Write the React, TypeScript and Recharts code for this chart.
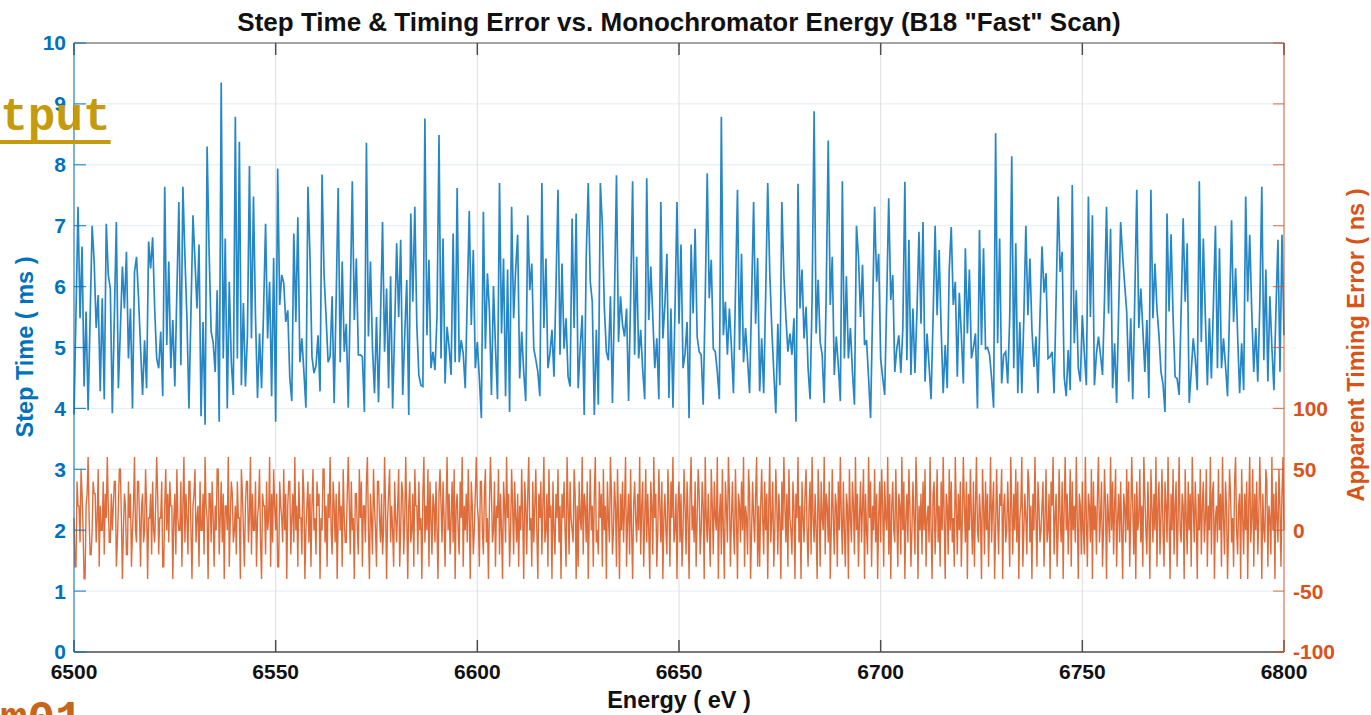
import { CartesianGrid, Line, LineChart, XAxis, YAxis } from 'recharts';

const BLUE = '#0072BD';
const ORANGE = '#D95319';
const FONT = '"Liberation Sans", Arial, Helvetica, sans-serif';

// scan grids: uniform energy steps
const ENERGY_START = 6500;
const STEP_TIME_STEP = 0.5;
const ERROR_STEP = 0.25;
const ENERGY_TICKS = [6500, 6550, 6600, 6650, 6700, 6750, 6800];
const STEP_TICKS = [0, 1, 2, 3, 4, 5, 6, 7, 8, 9, 10];
const ERROR_TICKS = [-100, -50, 0, 50, 100, 150, 200, 250, 300, 350, 400];
const ERROR_LABEL_MAX = 100;

// step time (ms)
const stepTime = [
  3.9, 5.6, 7.31, 5.48, 6.66, 4.36, 5.59, 3.97, 5.5, 7.0, 6.41, 5.32, 5.86, 4.28, 5.81, 4.15, 7.03, 6.19, 5.97, 3.92,
  5.5, 7.06, 4.33, 5.3, 6.33, 5.64, 6.57, 4.82, 5.64, 4.0, 6.24, 6.49, 5.81, 5.0, 4.22, 5.12, 4.33, 6.74, 6.3, 6.81,
  5.64, 4.82, 4.66, 5.26, 4.2, 7.64, 5.04, 6.41, 4.66, 5.45, 4.36, 5.9, 7.39, 4.71, 7.64, 6.5, 5.48, 4.0, 5.6, 7.17,
  6.41, 5.64, 6.69, 3.87, 5.42, 3.73, 8.3, 6.57, 5.26, 5.09, 4.6, 5.94, 3.78, 9.35, 4.82, 6.79, 4.0, 6.08, 4.76, 4.22,
  8.79, 4.82, 8.38, 4.38, 5.73, 4.36, 5.2, 7.98, 5.15, 7.48, 5.5, 4.17, 5.23, 4.33, 5.6, 7.03, 5.15, 6.08, 4.2, 6.47,
  3.78, 7.94, 5.7, 6.19, 6.06, 5.42, 5.61, 4.5, 4.12, 6.87, 5.42, 7.14, 4.76, 5.15, 4.6, 4.01, 7.64, 6.52, 4.85, 4.58,
  4.7, 5.2, 4.28, 7.84, 6.19, 5.5, 4.76, 4.85, 5.84, 4.09, 5.8, 7.62, 4.76, 6.41, 4.93, 5.39, 4.01, 5.8, 7.73, 5.45,
  6.46, 4.88, 4.88, 4.85, 3.94, 8.36, 5.18, 6.41, 5.0, 4.25, 5.5, 4.1, 5.5, 7.06, 4.93, 5.97, 4.33, 6.17, 4.0, 5.3,
  6.71, 5.5, 6.77, 4.22, 5.2, 6.11, 3.89, 7.2, 5.75, 7.31, 5.37, 4.55, 4.38, 4.36, 8.76, 5.2, 6.44, 4.66, 4.93, 4.63,
  5.5, 8.49, 4.82, 6.79, 4.41, 5.34, 5.0, 4.55, 6.87, 4.76, 7.62, 4.76, 5.12, 4.9, 4.33, 5.8, 7.24, 5.37, 6.6, 4.66,
  5.09, 4.5, 3.84, 7.23, 4.98, 6.22, 5.6, 4.22, 6.01, 5.0, 4.15, 7.7, 5.23, 6.46, 4.2, 6.28, 3.94, 7.31, 5.48, 6.28,
  6.85, 4.49, 5.26, 4.6, 4.12, 7.17, 5.94, 6.38, 4.98, 4.8, 4.6, 4.2, 7.7, 5.32, 6.46, 4.66, 4.9, 5.29, 4.52, 6.0,
  7.59, 4.88, 6.38, 4.98, 5.48, 4.52, 4.36, 7.12, 5.32, 7.2, 4.33, 5.0, 5.53, 3.89, 6.49, 7.7, 6.08, 5.75, 3.89, 5.29,
  4.06, 7.7, 7.0, 5.64, 4.93, 4.79, 5.84, 4.09, 5.8, 7.83, 5.09, 5.84, 5.37, 5.18, 5.64, 4.12, 5.8, 7.73, 4.88, 6.49,
  4.82, 5.29, 4.63, 4.15, 7.78, 5.45, 6.33, 5.5, 4.66, 5.15, 4.15, 7.39, 5.15, 5.7, 6.54, 4.17, 5.64, 4.01, 5.6, 7.39,
  5.39, 6.69, 4.66, 4.9, 5.42, 3.84, 6.69, 5.56, 6.95, 5.18, 4.93, 4.88, 4.06, 5.8, 7.86, 5.81, 6.44, 4.98, 4.93, 4.6,
  4.15, 8.79, 5.2, 5.75, 4.88, 5.64, 5.0, 4.25, 5.9, 7.59, 4.96, 6.54, 4.76, 5.32, 4.8, 4.25, 5.8, 7.39, 5.39, 6.47,
  4.28, 5.15, 4.25, 5.9, 7.7, 6.24, 5.32, 4.6, 3.92, 5.39, 4.38, 7.39, 6.19, 5.5, 4.93, 5.23, 4.88, 5.48, 3.78, 7.69,
  5.64, 6.28, 5.15, 5.67, 4.66, 4.15, 5.8, 8.88, 5.23, 6.11, 5.09, 4.88, 4.09, 5.9, 8.4, 5.7, 6.49, 4.55, 5.18, 4.7,
  4.12, 7.73, 4.82, 6.17, 4.82, 5.32, 4.6, 4.06, 7.0, 6.49, 5.5, 6.36, 5.04, 5.12, 4.5, 3.84, 5.6, 7.31, 6.08, 6.54,
  4.82, 4.5, 4.22, 5.8, 7.45, 5.78, 6.19, 4.6, 4.98, 5.2, 4.58, 5.32, 7.72, 4.79, 6.77, 4.55, 5.64, 4.58, 5.6, 6.9,
  5.39, 7.06, 4.44, 5.23, 4.7, 4.15, 5.5, 7.0, 5.53, 6.6, 5.3, 4.25, 5.04, 4.33, 6.28, 6.98, 5.7, 6.08, 4.52, 5.9,
  5.2, 4.41, 6.63, 5.23, 6.28, 4.82, 5.0, 5.23, 4.0, 6.93, 5.04, 6.63, 4.98, 5.0, 4.88, 4.5, 4.01, 8.52, 5.07, 6.79,
  4.41, 4.88, 4.93, 4.41, 5.5, 8.14, 4.66, 6.71, 4.25, 5.42, 4.25, 5.5, 7.0, 5.53, 6.46, 5.3, 4.68, 5.18, 4.25, 5.5,
  6.66, 5.9, 6.22, 4.82, 4.85, 4.93, 4.25, 5.8, 7.48, 6.24, 6.57, 4.52, 4.2, 4.96, 4.3, 7.67, 5.07, 5.94, 4.66, 4.44,
  5.53, 4.9, 4.38, 7.48, 5.5, 7.17, 4.38, 4.9, 5.18, 4.88, 4.55, 5.8, 7.31, 5.56, 6.95, 4.33, 5.07, 4.09, 5.6, 7.06,
  6.5, 6.03, 5.59, 4.44, 5.48, 4.15, 5.8, 7.59, 5.32, 5.97, 5.3, 4.6, 5.45, 4.17, 7.59, 5.48, 6.38, 5.64, 5.2, 4.6,
  4.4, 3.94, 7.2, 5.59, 6.86, 5.5, 4.52, 4.49, 4.22, 5.6, 7.12, 5.75, 6.71, 4.09, 4.6, 5.15, 4.82, 4.3, 7.73, 5.09,
  6.79, 5.5, 4.38, 5.48, 4.49, 5.7, 7.0, 4.66, 6.63, 4.66, 5.15, 4.7, 4.2, 5.6, 7.09, 5.42, 6.3, 5.2, 4.25, 5.07,
  4.3, 7.48, 5.75, 6.85, 5.6, 4.6, 5.32, 4.44, 5.7, 7.64, 4.79, 6.28, 4.44, 5.84, 5.0, 4.3, 5.6, 6.77, 4.6, 6.85,
  5.2,
];

// apparent timing error (ns), orange trace, quantised to 10 ns
const timingError = [
  10, -30, -30, 40, 20, 20, -10, 50, 30, 0, -40, -40, 20, 30, 60, 10, -20, -20, 0, 40, 30, 30, -10, 10, 50, -30, 20, 0, 0, 40, -20, 30, 10, 60, 20, -10, -10, 30, 0, 20,
  40, 40, -30, -10, 20, 50, 50, 10, -40, 0, 30, 20, -20, -20, 40, 10, 30, -30, 0, 20, 60, 0, -10, 40, 40, 10, -30, 20, 30, -10, 0, 50, 20, -40, 10, 10, 30, -20, 40, 0,
  -10, 20, 60, 30, -20, 10, 10, 40, -30, -30, 20, 50, 0, 30, -10, 40, 20, 20, -40, 10, 30, -20, 50, 10, 0, 0, 40, -30, 20, 60, -10, 30, 10, -20, 40, 40, 0, -40, 20, 30,
  50, -10, 10, 20, -30, 40, 0, 0, 30, -20, 60, 20, 10, -40, 30, 30, -10, 40, 10, -30, 20, 0, 50, 50, -20, 10, 40, -10, 30, -40, 20, 20, 0, 60, -30, 10, 40, 30, -10, 0,
  20, -20, 40, 10, 10, -40, 50, 30, 0, -30, 20, 40, 40, -10, 10, 60, -20, 30, 0, 0, 40, -30, 10, 20, 50, -10, -40, 30, 20, 20, -20, 40, 0, 10, 60, -30, 30, -10, 50, 20,
  0, 30, -30, -30, 40, 20, 10, -10, 50, 0, 30, -40, 20, 40, 40, -20, 10, 30, -10, 60, 0, 20, -30, 40, 10, 10, -20, 50, 30, -40, 0, 20, 40, -10, 30, -30, 20, 50, 0, 10,
  -20, 40, 20, 30, -40, 10, 0, 50, 50, -10, 20, -30, 30, 10, 60, 0, -20, 40, 20, -10, 30, -40, 10, 40, 0, 20, -30, 50, 10, -10, -10, 30, 60, 20, -20, 40, 0, 10, -40, 30,
  30, 0, -20, 50, 10, 40, -30, 20, 20, -10, 40, 60, 0, -40, 30, 10, -20, 50, 20, 0, -30, 40, 40, 10, -10, 30, -20, 0, 60, 20, -40, 10, 30, 50, -10, 20, 0, -30, 40, 10,
  -10, 20, 50, -30, 0, 40, 30, -20, 10, 60, 10, -40, 20, 40, -10, 0, 30, -30, 50, 20, 20, -20, 40, 0, 10, -40, 30, 60, -10, 20, 0, 50, -30, 40, 10, -20, 30, 20, -10, 40,
  0, -40, 30, 50, 20, -10, 40, 10, -30, 20, 60, 0, 30, -20, 10, 40, -10, 50, -40, 20, 30, 0, -20, 40, 10, 60, -30, 20, 0, 30, -10, 50, 10, -40, 40, 20, -20, 0, 30, 60,
  20, 10, -30, 40, 40, 0, -20, 30, 50, -10, 10, -40, 20, 60, 30, -10, 0, 40, -30, 20, 10, 50, -20, 30, 0, -40, 40, 20, -10, 60, 10, 30, -30, 0, 50, 20, -20, 40, 10, -10,
  30, -30, 20, 0, 50, 10, -40, 40, 20, -20, 30, 60, 0, 10, -30, 40, -10, 20, 50, 0, -40, 30, 10, 40, -20, 20, 60, -10, 0, 30, -30, 50, 10, 20, -40, 40, 0, -20, 30, 10,
  50, -10, 20, -40, 30, 10, 40, 0, -30, 60, 20, -20, 40, 10, 0, -10, 50, 30, -40, 20, -30, 40, 10, 0, 60, -20, 30, 20, -10, 40, -40, 10, 50, 0, 20, -30, 30, 60, -10, 0,
  -20, 40, 10, 30, -30, 50, 0, 20, -40, 40, 10, -10, 60, 30, -20, 0, 40, 20, -30, 50, 10, -40, 30, 0, 40, -10, 20, 60, -30, 10, 30, -20, 50, 0, -40, 20, 40, 10, -10, 30,
  0, 60, -20, 20, 40, -30, 10, 50, -10, 30, 0, -40, 40, 20, -20, 60, 10, 30, -30, 0, 50, 20, -10, 40, -40, 10, 30, 0, -20, 50, 20, -30, 40, 10, 60, -10, 0, 30, -40, 20,
  40, -10, 30, -30, 0, 50, 20, -20, 40, 10, -40, 30, 60, 0, 20, -10, 40, -30, 10, 50, 30, -20, 0, 40, 20, -40, 60, 10, -10, 30, 0, -30, 50, 20, -20, 40, 10, 0, 60, -40,
  10, 30, -20, 50, 0, -40, 40, 20, -10, 60, 30, -30, 10, 40, 0, -20, 50, 10, -40, 30, 20, -10, 40, 0, 60, -30, 20, 10, -20, 50, 30, -40, 0, 40, 10, -10, 30, 60, -30, 20,
  -30, 20, 50, 10, -20, 40, 0, 30, -40, 20, 60, -10, 10, 40, -30, 0, 50, 20, -20, 30, 10, -40, 40, 0, 60, 20, -10, 30, -30, 50, 10, 0, -20, 40, 20, -40, 30, 10, 60, -10,
  20, -40, 40, 10, -10, 30, 50, 0, -30, 20, 40, -20, 60, 10, -10, 30, 0, -40, 50, 20, -30, 40, 10, 0, 60, -20, 30, 20, -10, 40, -40, 0, 50, 10, -20, 30, 20, -30, 40, 0,
  60, 10, -20, 40, 0, -30, 30, 20, -40, 50, 10, -10, 40, 20, -20, 60, 0, 30, -30, 10, 40, -10, 20, 50, -40, 30, 0, -20, 60, 10, 40, -30, 20, 0, 50, -10, 30, -40, 10, 40,
  -10, 50, 20, -30, 40, 10, 0, 60, -20, 30, -40, 20, 40, 0, -10, 50, 10, -30, 30, 20, -20, 60, 0, 40, -40, 10, 30, -10, 50, 20, -30, 0, 40, 10, -20, 60, 30, -40, 20, 0,
  30, -20, 40, 0, 50, -30, 10, 20, -10, 60, 0, -40, 30, 40, -20, 10, 50, -10, 20, -30, 40, 0, 60, 10, -40, 30, 20, -20, 50, 0, 40, -10, 10, -30, 60, 20, -20, 30, 0, 40,
  -30, 10, 60, 20, -10, 40, -40, 30, 0, 50, 10, -20, 40, -30, 20, 60, 0, -10, 30, 10, -40, 50, 20, -20, 40, 0, 30, -30, 10, 60, -10, 20, 40, -40, 0, 50, 10, -20, 30, 20,
  50, -40, 20, 30, -10, 0, 40, 10, -30, 60, 20, -20, 30, 0, 50, -10, 40, -40, 10, 20, 60, -30, 0, 30, 10, -20, 50, 40, -10, 20, -40, 30, 0, 60, 10, -30, 40, 20, -10, 0,
  20, 40, -30, 10, 50, -10, 0, 30, -40, 40, 20, 60, -20, 10, 30, -30, 0, 50, 10, -10, 40, -40, 20, 60, 0, 30, -20, 10, 50, -30, 40, 0, 20, -10, 60, 10, -40, 30, 20, -20,
  40, 0, -20, 60, 10, -30, 30, 20, -10, 50, -40, 40, 0, 20, -20, 30, 60, -10, 10, 40, -30, 0, 50, 20, -40, 30, 10, -10, 60, 0, 40, -20, 20, 50, -30, 10, 30, -10, 40, 0,
  -40, 30, 20, -10, 50, 0, 40, -30, 10, 60, 20, -20, 30, -40, 40, 0, 10, 50, -10, 20, -30, 60, 30, 0, -20, 40, 10, -40, 50, 20, -10, 30, 0, 60, -30, 20, 40, -20, 10, 50,
  0, -30, 40, 20, -10, 60, 10, -40, 30, 0, 50, -20, 20, 40, -30, 10, 60, 0, -10, 30, 20, -40, 50, 10, -20, 40, 0, 30, -30, 60, 20, -10, 40, 10, -40, 30, 0, 50, -20, 20,
  40, -10, 10, 50, -30, 20, 0, 60, -20, 30, 40, -40, 10, 20, -10, 50, 0, 30, -30, 60, 10, -20, 40, 20, -40, 0, 50, 30, -10, 10, -30, 40, 60, 0, -20, 20, 30, -40, 50, 10,
  -20, 30, 0, 40, -40, 20, 60, -10, 10, 50, -30, 30, 0, 40, -20, 10, 60, 20, -40, 30, 0, -10, 50, 40, -30, 20, 10, -20, 60, 0, 30, -40, 40, 10, -10, 50, 20, -30, 30, 60,
  0,
];

const stepData = stepTime.map((v, i) => ({
  energy: ENERGY_START + i * STEP_TIME_STEP,
  stepTime: v,
}));

const errorData = timingError.map((v, i) => ({
  energy: ENERGY_START + i * ERROR_STEP,
  timingError: v,
}));

const tickFont = { fontFamily: FONT, fontSize: 21, fontWeight: 'bold' as const };

const textBase = {
  position: 'absolute' as const,
  fontFamily: FONT,
  fontWeight: 'bold' as const,
  lineHeight: 1,
  whiteSpace: 'nowrap' as const,
};

export default function App() {
  return (
    <div
      style={{
        position: 'absolute',
        left: 0,
        top: 0,
        width: 1371,
        height: 715,
        overflow: 'hidden',
        background: '#fff',
      }}
    >
      <LineChart width={1371} height={715} data={stepData} margin={{ top: 42, right: 86, bottom: 62, left: 73 }}>
        <CartesianGrid xAxisId="bottom" yAxisId="left" vertical={false} stroke="#e2ecf5" />
        <CartesianGrid xAxisId="bottom" yAxisId="left" horizontal={false} stroke="#dedede" />
        <XAxis
          xAxisId="bottom"
          type="number"
          dataKey="energy"
          domain={[6500, 6800]}
          ticks={ENERGY_TICKS}
          interval={0}
          height={1}
          tickSize={-12}
          tickMargin={24}
          axisLine={{ stroke: '#4d4d4d', strokeWidth: 1.5 }}
          tickLine={{ stroke: '#4d4d4d', strokeWidth: 1.5 }}
          tick={{ ...tickFont, fill: '#111' }}
        />
        <XAxis
          xAxisId="top"
          orientation="top"
          type="number"
          dataKey="energy"
          domain={[6500, 6800]}
          ticks={ENERGY_TICKS}
          interval={0}
          height={1}
          tickSize={-12}
          tickFormatter={() => ''}
          axisLine={{ stroke: '#8a8a8a', strokeWidth: 1.5 }}
          tickLine={{ stroke: '#4d4d4d', strokeWidth: 1.5 }}
        />
        <YAxis
          yAxisId="left"
          domain={[0, 10]}
          ticks={STEP_TICKS}
          interval={0}
          width={1}
          tickSize={-12}
          tickMargin={20}
          axisLine={{ stroke: BLUE, strokeWidth: 1.2, strokeOpacity: 0.8 }}
          tickLine={{ stroke: BLUE, strokeWidth: 1.2, strokeOpacity: 0.8 }}
          tick={{ ...tickFont, fill: BLUE }}
        />
        <YAxis
          yAxisId="right"
          orientation="right"
          domain={[-100, 400]}
          ticks={ERROR_TICKS}
          interval={0}
          width={1}
          tickSize={-11}
          tickMargin={20}
          tickFormatter={(v: number) => (v <= ERROR_LABEL_MAX ? String(v) : '')}
          axisLine={{ stroke: ORANGE, strokeWidth: 1.2, strokeOpacity: 0.7 }}
          tickLine={{ stroke: ORANGE, strokeWidth: 1.2, strokeOpacity: 0.7 }}
          tick={{ ...tickFont, fill: ORANGE }}
        />
        <Line
          xAxisId="bottom"
          yAxisId="left"
          type="linear"
          dataKey="stepTime"
          stroke={BLUE}
          strokeWidth={1.7}
          strokeOpacity={0.85}
          dot={false}
          activeDot={false}
          isAnimationActive={false}
        />
        <Line
          data={errorData}
          xAxisId="bottom"
          yAxisId="right"
          type="linear"
          dataKey="timingError"
          stroke={ORANGE}
          strokeWidth={1.4}
          strokeOpacity={0.85}
          dot={false}
          activeDot={false}
          isAnimationActive={false}
        />
      </LineChart>

      <div style={{ ...textBase, left: 679, top: 22, transform: 'translate(-50%, -50%)', fontSize: 26, color: '#111' }}>
        Step Time &amp; Timing Error vs. Monochromator Energy (B18 "Fast" Scan)
      </div>
      <div style={{ ...textBase, left: 679, top: 701, transform: 'translate(-50%, -50%)', fontSize: 23.5, color: '#111' }}>
        Energy ( eV )
      </div>
      <div
        style={{
          ...textBase,
          left: 26,
          top: 347,
          transform: 'translate(-50%, -50%) rotate(-90deg)',
          fontSize: 23.5,
          color: BLUE,
        }}
      >
        Step Time ( ms )
      </div>
      <div
        style={{
          ...textBase,
          left: 1357,
          top: 345,
          transform: 'translate(-50%, -50%) rotate(-90deg)',
          fontSize: 23.5,
          color: ORANGE,
        }}
      >
        Apparent Timing Error ( ns )
      </div>

      {/* slide text bleeding in from the left edge */}
      <div
        style={{
          ...textBase,
          left: -55,
          top: 95,
          fontFamily: '"Liberation Mono", monospace',
          fontSize: 46,
          color: '#C49A0E',
          textDecoration: 'underline',
          textDecorationThickness: 4,
          textUnderlineOffset: 10,
        }}
      >
        Output
      </div>
      <div
        style={{
          ...textBase,
          left: 0,
          top: 698,
          fontFamily: '"Liberation Mono", monospace',
          fontSize: 46,
          color: '#C8651C',
        }}
      >
        m01
      </div>
    </div>
  );
}
